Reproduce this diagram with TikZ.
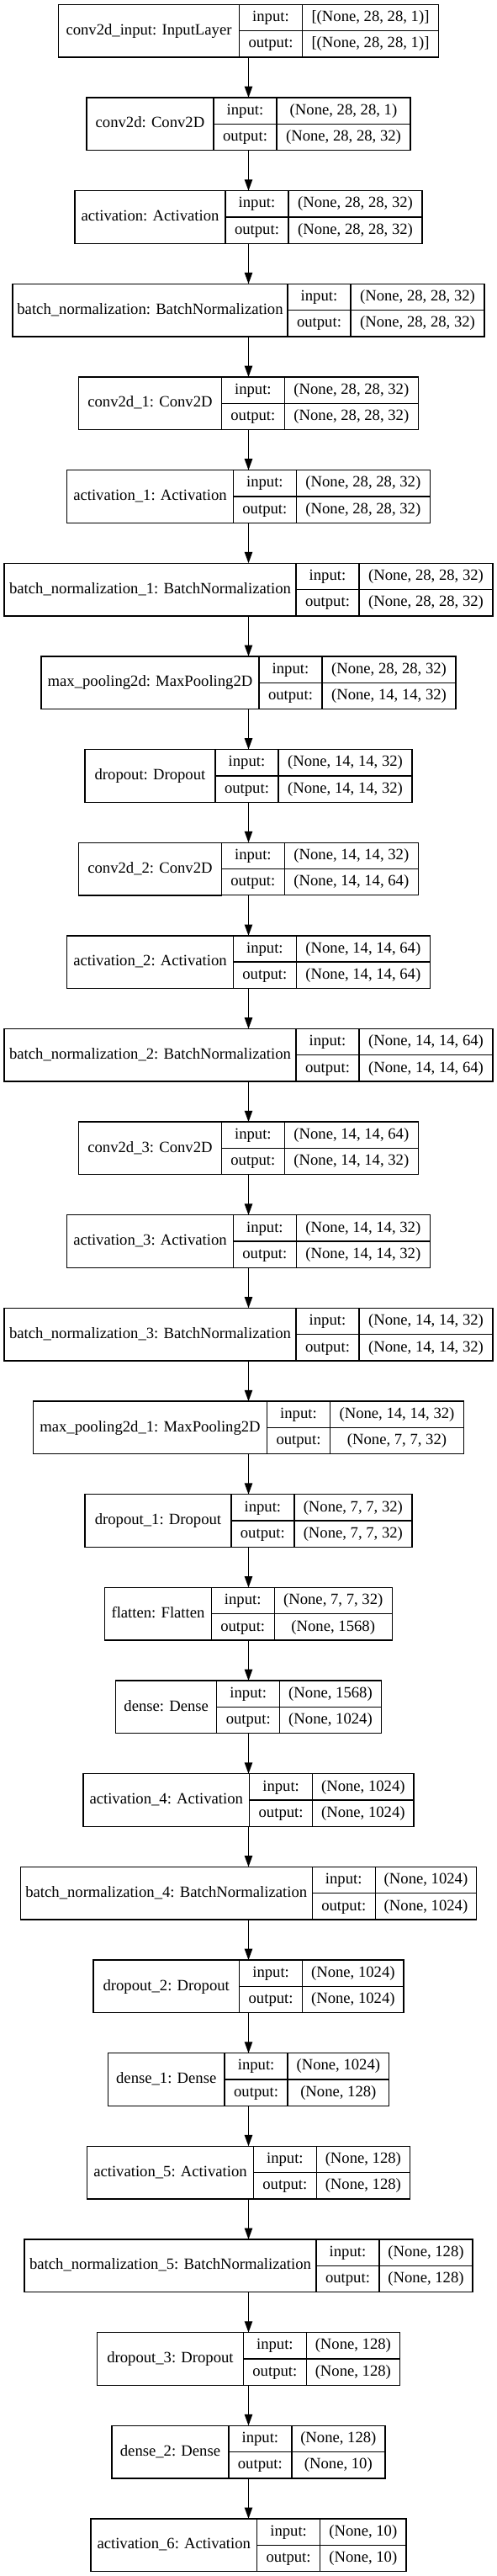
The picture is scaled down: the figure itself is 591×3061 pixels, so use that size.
\documentclass[tikz,border=0pt]{standalone}
\usepackage{fontspec}
\setmainfont{Liberation Serif}
\usetikzlibrary{arrows.meta}
\tikzset{
  cell/.style={draw=black, line width=1pt, inner sep=0pt, outer sep=0pt,
    text height=9.6pt, text depth=2.6pt, font=\fontsize{14pt}{16.8pt}\selectfont},
  lbox/.style={inner sep=0pt, outer sep=0pt, minimum height=46.99pt},
  flow/.style={draw=black, line width=1pt, -{Triangle[length=10pt,width=7pt]}},
}
% #1 id, #2 index, #3 name, #4 name-cell width (px), #5 value-cell width (px), #6 input, #7 output
\newcommand\nnlayer[7]{%
  \pgfmathsetmacro\Wtot{(#4+75+#5)*0.75}%
  \pgfmathsetmacro\Wn{#4*0.75}%
  \pgfmathsetmacro\Wv{#5*0.75}%
  \pgfmathsetmacro\Yc{5.33+#2*110.65+31.325}%
  \node[lbox, minimum width=\Wtot pt] (#1) at (295.5,\Yc) {};
  \node[cell, anchor=west, minimum width=\Wn pt, minimum height=46.99pt] (#1n) at (#1.west) {#3};
  \node[cell, anchor=north west, minimum width=56.25pt, minimum height=23.49pt] (#1li) at (#1n.north east) {input:};
  \node[cell, anchor=north west, minimum width=56.25pt, minimum height=23.49pt] (#1lo) at (#1li.south west) {output:};
  \node[cell, anchor=north west, minimum width=\Wv pt, minimum height=23.49pt] (#1vi) at (#1li.north east) {#6};
  \node[cell, anchor=north west, minimum width=\Wv pt, minimum height=23.49pt] (#1vo) at (#1lo.north east) {#7};
}
\begin{document}
\begin{tikzpicture}[x=0.75pt, y=-0.75pt]
\useasboundingbox (0,0) rectangle (591,3061);
\nnlayer{L0}{0}{conv2d\_input: InputLayer}{215}{162}{[(None, 28, 28, 1)]}{[(None, 28, 28, 1)]}
\nnlayer{L1}{1}{conv2d: Conv2D}{151}{159}{(None, 28, 28, 1)}{(None, 28, 28, 32)}
\nnlayer{L2}{2}{activation: Activation}{179}{159}{(None, 28, 28, 32)}{(None, 28, 28, 32)}
\nnlayer{L3}{3}{batch\_normalization: BatchNormalization}{327}{159}{(None, 28, 28, 32)}{(None, 28, 28, 32)}
\nnlayer{L4}{4}{conv2d\_1: Conv2D}{169.7}{159}{(None, 28, 28, 32)}{(None, 28, 28, 32)}
\nnlayer{L5}{5}{activation\_1: Activation}{197.7}{159}{(None, 28, 28, 32)}{(None, 28, 28, 32)}
\nnlayer{L6}{6}{batch\_normalization\_1: BatchNormalization}{347}{159}{(None, 28, 28, 32)}{(None, 28, 28, 32)}
\nnlayer{L7}{7}{max\_pooling2d: MaxPooling2D}{259}{159}{(None, 28, 28, 32)}{(None, 14, 14, 32)}
\nnlayer{L8}{8}{dropout: Dropout}{155}{159}{(None, 14, 14, 32)}{(None, 14, 14, 32)}
\nnlayer{L9}{9}{conv2d\_2: Conv2D}{169.7}{159}{(None, 14, 14, 32)}{(None, 14, 14, 64)}
\nnlayer{L10}{10}{activation\_2: Activation}{197.7}{159}{(None, 14, 14, 64)}{(None, 14, 14, 64)}
\nnlayer{L11}{11}{batch\_normalization\_2: BatchNormalization}{347}{159}{(None, 14, 14, 64)}{(None, 14, 14, 64)}
\nnlayer{L12}{12}{conv2d\_3: Conv2D}{169.7}{159}{(None, 14, 14, 64)}{(None, 14, 14, 32)}
\nnlayer{L13}{13}{activation\_3: Activation}{197.7}{159}{(None, 14, 14, 32)}{(None, 14, 14, 32)}
\nnlayer{L14}{14}{batch\_normalization\_3: BatchNormalization}{347}{159}{(None, 14, 14, 32)}{(None, 14, 14, 32)}
\nnlayer{L15}{15}{max\_pooling2d\_1: MaxPooling2D}{278}{159}{(None, 14, 14, 32)}{(None, 7, 7, 32)}
\nnlayer{L16}{16}{dropout\_1: Dropout}{173.7}{140}{(None, 7, 7, 32)}{(None, 7, 7, 32)}
\nnlayer{L17}{17}{flatten: Flatten}{126.4}{140}{(None, 7, 7, 32)}{(None, 1568)}
\nnlayer{L18}{18}{dense: Dense}{120}{120.5}{(None, 1568)}{(None, 1024)}
\nnlayer{L19}{19}{activation\_4: Activation}{197.7}{120.5}{(None, 1024)}{(None, 1024)}
\nnlayer{L20}{20}{batch\_normalization\_4: BatchNormalization}{347}{120.5}{(None, 1024)}{(None, 1024)}
\nnlayer{L21}{21}{dropout\_2: Dropout}{173.7}{120.5}{(None, 1024)}{(None, 1024)}
\nnlayer{L22}{22}{dense\_1: Dense}{138.7}{120.5}{(None, 1024)}{(None, 128)}
\nnlayer{L23}{23}{activation\_5: Activation}{197.7}{111}{(None, 128)}{(None, 128)}
\nnlayer{L24}{24}{batch\_normalization\_5: BatchNormalization}{347}{111}{(None, 128)}{(None, 128)}
\nnlayer{L25}{25}{dropout\_3: Dropout}{173.7}{111}{(None, 128)}{(None, 128)}
\nnlayer{L26}{26}{dense\_2: Dense}{138.7}{111}{(None, 128)}{(None, 10)}
\nnlayer{L27}{27}{activation\_6: Activation}{197.7}{102.5}{(None, 10)}{(None, 10)}
\foreach \i [evaluate=\i as \j using int(\i+1)] in {0,...,26} {
  \draw[flow] (L\i) -- (L\j);
}
\end{tikzpicture}
\end{document}
